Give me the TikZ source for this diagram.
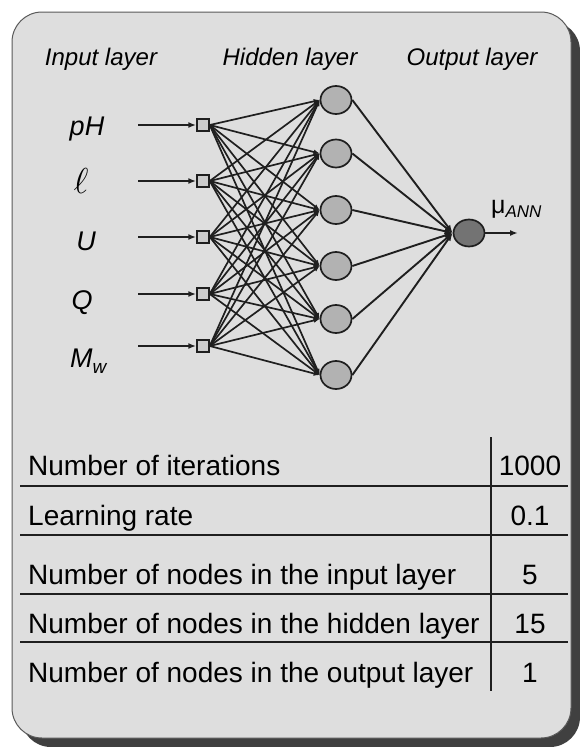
\documentclass[tikz,border=0pt]{standalone}
\usepackage{fontspec}
\setmainfont{Liberation Sans}
\usetikzlibrary{shapes.geometric,arrows.meta}
\definecolor{boxfill}{gray}{0.87}
\definecolor{boxline}{gray}{0.35}
\definecolor{shadowc}{gray}{0.25}
\definecolor{linec}{gray}{0.12}
\definecolor{sqfill}{gray}{0.80}
\definecolor{hidfill}{gray}{0.70}
\definecolor{outfill}{gray}{0.45}
\tikzset{
  sqnode/.style={draw=linec,line width=1.5pt,fill=sqfill,minimum size=12pt,inner sep=0pt},
  hidnode/.style={ellipse,draw=linec,line width=1.7pt,fill=hidfill,minimum width=31pt,minimum height=28pt,inner sep=0pt},
  outnode/.style={ellipse,draw=linec,line width=1.7pt,fill=outfill,minimum width=31pt,minimum height=27pt,inner sep=0pt},
  arr/.style={draw=linec,line width=1.9pt,-{Latex[length=8pt,width=6pt]}},
  conn/.style={draw=linec,line width=1.7pt,-{Latex[length=6pt,width=5pt]}},
  hdr/.style={font=\fontsize{24}{28}\selectfont\itshape,inner sep=0pt,anchor=base},
  inlab/.style={font=\fontsize{27}{30}\selectfont\itshape,inner sep=0pt,anchor=base},
  tabtxt/.style={font=\fontsize{28}{32}\selectfont,inner sep=0pt,anchor=base west},
  tabval/.style={font=\fontsize{28}{32}\selectfont,inner sep=0pt,anchor=base},
  rule/.style={draw=linec,line width=1.4pt}
}
\begin{document}
\begin{tikzpicture}[x=1pt,y=-1pt]
\useasboundingbox (0,0) rectangle (580,747);
% frame with shadow
\fill[shadowc,rounded corners=30pt] (21,21) rectangle (580,747);
\draw[boxline,fill=boxfill,line width=1pt,rounded corners=30pt] (12,12) rectangle (571,738);
% headers
\node[hdr] (hin) at (101,65) {Input layer};
\node[hdr] (hhid) at (290,65) {Hidden layer};
\node[hdr] (hout) at (472,65) {Output layer};
% input labels
\node[inlab] (l1) at (87,135) {pH};
\node[inlab] (l2) at (81,193) {\scalebox{1.45}{$\ell$}};
\node[inlab] (l3) at (86,250) {U};
\node[inlab] (l4) at (82,309) {Q};
\node[inlab,anchor=base west] (l5) at (70,367) {M\raisebox{-6pt}{\fontsize{19}{20}\selectfont w}};
% input squares and arrows
\foreach \y [count=\i] in {125,181,237,294,346} {
  \node[sqnode] (i\i) at (203,\y) {};
  \coordinate (s\i) at (138,\y);
  \draw[arr] (s\i) -- (i\i.west);
}
% hidden nodes
\foreach \y [count=\j] in {100,153.5,210,266,319,375} {
  \node[hidnode] (h\j) at (336,\y) {};
}
% output node
\node[outnode] (o) at (469,233) {};
% connections input -> hidden
\foreach \i in {1,...,5} {
  \foreach \j in {1,...,6} {
    \draw[conn] (i\i.east) -- (h\j.west);
  }
}
% connections hidden -> output
\foreach \j in {1,...,6} {
  \draw[arr] (h\j.east) -- (o.west);
}
% output arrow and label
\coordinate (oe) at (518,233);
\draw[arr] (o.east) -- (oe);
\node[inner sep=0pt,anchor=base west] (mu) at (491,213) {\fontsize{25}{28}\selectfont μ\raisebox{-4pt}{\fontsize{17}{20}\selectfont\itshape ANN}};
% table
\coordinate (vt) at (491,437);
\coordinate (vb) at (491,691);
\draw[rule] (vt) -- (vb);
\foreach \y [count=\k] in {486,535,594,642} {
  \coordinate (ra\k) at (20,\y);
  \coordinate (rb\k) at (568,\y);
  \draw[rule] (ra\k) -- (rb\k);
}
\node[tabtxt] (t1) at (28,475) {Number of iterations};
\node[tabtxt] (t2) at (28,525) {Learning rate};
\node[tabtxt] (t3) at (28,584) {Number of nodes in the input layer};
\node[tabtxt] (t4) at (28,633) {Number of nodes in the hidden layer};
\node[tabtxt] (t5) at (28,682) {Number of nodes in the output layer};
\node[tabval] (v1) at (530,475) {1000};
\node[tabval] (v2) at (530,525) {0.1};
\node[tabval] (v3) at (530,584) {5};
\node[tabval] (v4) at (530,633) {15};
\node[tabval] (v5) at (530,682) {1};
\end{tikzpicture}
\end{document}
